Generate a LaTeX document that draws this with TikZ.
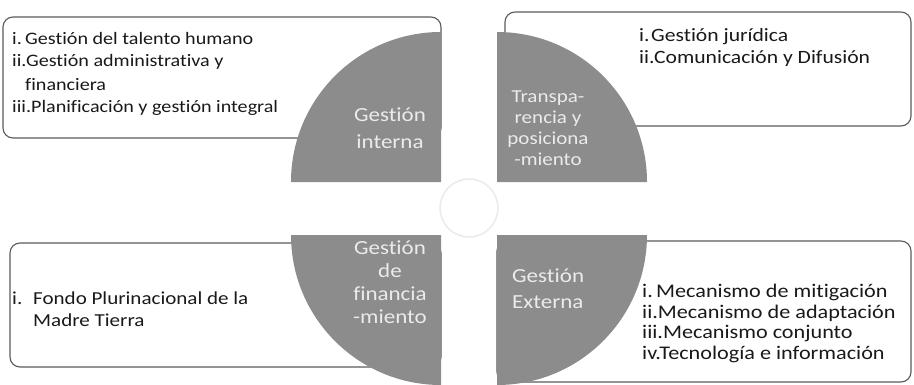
\documentclass[tikz,border=0pt]{standalone}
\usepackage{fontspec}
\setmainfont{Carlito}[FakeStretch=1.15, Ligatures=NoCommon]
\definecolor{quadfill}{RGB}{140,140,140}
\definecolor{qtext}{RGB}{235,235,235}
\definecolor{frame}{RGB}{90,90,90}
\definecolor{ink}{RGB}{25,25,25}
\definecolor{ring}{RGB}{234,234,234}
\begin{document}
\begin{tikzpicture}[x=1pt,y=1pt,
  box/.style={draw=frame, line width=1.1pt, rounded corners=10pt, inner sep=0pt},
  quadrant/.style={fill=quadfill},
  item/.style={anchor=base west, inner sep=0pt, text=ink},
  qlabel/.style={anchor=base, inner sep=0pt, text=qtext},
  qlabelw/.style={anchor=base west, inner sep=0pt, text=qtext}]
\useasboundingbox (0,0) rectangle (914,384);
% text boxes (behind the quadrants)
\node[box, minimum width=438pt, minimum height=121pt] (tlbox) at (222,306.5) {};
\node[box, minimum width=406pt, minimum height=114pt] (trbox) at (708,315) {};
\node[box, minimum width=431pt, minimum height=124pt] (blbox) at (225.5,79) {};
\node[box, minimum width=414pt, minimum height=141pt] (brbox) at (704,72.5) {};
% quadrants
\fill[quadrant] (441,202) -- (291,202) arc[start angle=180, end angle=90, radius=150] -- cycle;
\fill[quadrant] (497,202) -- (497,352) arc[start angle=90, end angle=0, radius=150] -- cycle;
\fill[quadrant] (441,149) -- (291,149) arc[start angle=180, end angle=270, radius=150] -- cycle;
\fill[quadrant] (497,149) -- (647,149) arc[start angle=0, end angle=-90, radius=150] -- cycle;
% centre ring
\node[draw=ring, line width=1.5pt, circle, minimum size=58pt, inner sep=0pt] (ring) at (469,176) {};
% top-left list
\begin{scope}[font=\fontsize{17.5}{22}\selectfont]
\node[item] (tl1) at (12,339) {\makebox[13pt][l]{i.}Gestión del talento humano};
\node[item] (tl2) at (12,317) {ii.Gestión administrativa y};
\node[item] (tl3) at (25,294) {financiera};
\node[item] (tl4) at (12,272) {iii.Planificación y gestión integral};
\end{scope}
% top-right list
\begin{scope}[font=\fontsize{18.8}{22}\selectfont]
\node[item] (tr1) at (639,342) {\makebox[12pt][l]{i.}Gestión jurídica};
\node[item] (tr2) at (639,321) {ii.Comunicación y Difusión};
\end{scope}
% bottom-left list
\begin{scope}[font=\fontsize{18.3}{22}\selectfont]
\node[item] (bl1) at (12,80) {\makebox[21pt][l]{i.}Fondo Plurinacional de la};
\node[item] (bl2) at (33,58) {Madre Tierra};
\end{scope}
% bottom-right list
\begin{scope}[font=\fontsize{19.3}{22}\selectfont]
\node[item] (br1) at (642,87) {\makebox[14pt][l]{i.}Mecanismo de mitigación};
\node[item] (br2) at (642,66) {ii.Mecanismo de adaptación};
\node[item] (br3) at (642,46) {iii.Mecanismo conjunto};
\node[item] (br4) at (642,25) {iv.Tecnología e información};
\end{scope}
% quadrant labels
\begin{scope}[font=\fontsize{20}{24}\selectfont]
\node[qlabel] (gi1) at (390,263) {Gestión};
\node[qlabel] (gi2) at (390,236) {interna};
\node[qlabel] (gf1) at (390,130) {Gestión};
\node[qlabel] (gf2) at (390,107) {de};
\node[qlabel] (gf3) at (390,84) {financia};
\node[qlabel] (gf4) at (390,61) {-miento};
\node[qlabelw] (ge1) at (512,102) {Gestión};
\node[qlabelw] (ge2) at (512,76) {Externa};
\end{scope}
\begin{scope}[font=\fontsize{18.3}{21}\selectfont]
\node[qlabel] (tp1) at (548,282) {Transpa-};
\node[qlabel] (tp2) at (548,261) {rencia y};
\node[qlabel] (tp3) at (548,240) {posiciona};
\node[qlabel] (tp4) at (548,219) {-miento};
\end{scope}
\end{tikzpicture}
\end{document}
